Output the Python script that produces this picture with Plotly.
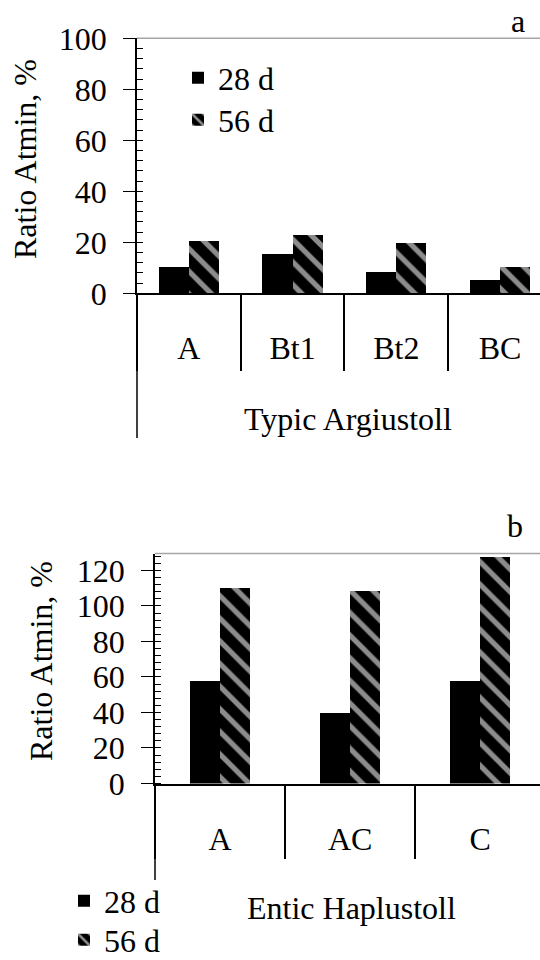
import plotly.graph_objects as go

# ---- data ----
cats_a = ["A", "Bt1", "Bt2", "BC"]
d28_a = [10.3, 15.3, 8.1, 5.1]
d56_a = [20.5, 22.7, 19.5, 10.3]

cats_b = ["A", "AC", "C"]
d28_b = [58.1, 40.0, 58.1]
d56_b = [110.6, 108.5, 127.9]

series_names = ["28 d", "56 d"]
soil_a = "Typic Argiustoll"
soil_b = "Entic Haplustoll"
ytitle = "Ratio Atmin, %"

W, H = 540, 960
FONT = "Liberation Serif, Times New Roman, Times, serif"
FS = 32

def px(y):
    return 1 - y / H

fig = go.Figure()

hatch = dict(shape="\\", fgcolor="#8c8c8c", bgcolor="black", size=16,
             solidity=0.33, fillmode="replace")

wa = 0.29
wb = 0.23
fig.add_trace(go.Bar(x=cats_a, y=d28_a, name=series_names[0], xaxis="x", yaxis="y",
                     marker=dict(color="black", line=dict(width=0)),
                     width=wa, offset=-wa, legend="legend"))
fig.add_trace(go.Bar(x=cats_a, y=d56_a, name=series_names[1], xaxis="x", yaxis="y",
                     marker=dict(color="black", pattern=hatch, line=dict(width=0)),
                     width=wa, offset=0, legend="legend2"))
fig.add_trace(go.Bar(x=cats_b, y=d28_b, name=series_names[0], xaxis="x2", yaxis="y2",
                     marker=dict(color="black", line=dict(width=0)),
                     width=wb, offset=-wb, legend="legend3"))
fig.add_trace(go.Bar(x=cats_b, y=d56_b, name=series_names[1], xaxis="x2", yaxis="y2",
                     marker=dict(color="black", pattern=hatch, line=dict(width=0)),
                     width=wb, offset=0, legend="legend4"))

font = dict(family=FONT, size=FS, color="black")

xcommon = dict(type="category", showgrid=False, zeroline=False, showline=True,
               linecolor="black", linewidth=1.5, ticks="outside", tickson="boundaries",
               tickcolor="black", tickwidth=1.5, tickfont=font, fixedrange=True,
               automargin=False)
ycommon = dict(showgrid=False, zeroline=False, showline=True, linecolor="black",
               linewidth=1.5, ticks="outside", ticklen=12, tickwidth=1.2, tickcolor="black",
               tickfont=font, ticklabelstandoff=10,
               minor=dict(dtick=4, ticks="inside", ticklen=6, tickcolor="black", tickwidth=1),
               fixedrange=True, automargin=False)

def leg(xp, yp):
    return dict(x=xp / W, y=px(yp), xanchor="left", yanchor="middle", font=font,
                bgcolor="rgba(0,0,0,0)", tracegroupgap=0, itemwidth=30)

xa_left, xb_left = 137, 155
fig.update_layout(
    width=W, height=H,
    margin=dict(l=0, r=0, t=0, b=0, autoexpand=False),
    paper_bgcolor="white", plot_bgcolor="white",
    font=font,
    xaxis=dict(xcommon, domain=[xa_left / W, 1], range=[-0.5, 3.386], anchor="y",
               ticklen=76, ticklabelstandoff=26),
    yaxis=dict(ycommon, domain=[px(293.3), px(38.3)], range=[0, 100], dtick=20, anchor="x"),
    xaxis2=dict(xcommon, domain=[xb_left / W, 1], range=[-0.5, 2.46], anchor="y2",
                ticklen=74, ticklabelstandoff=26),
    yaxis2=dict(ycommon, domain=[px(783.5), px(553.5)], range=[0, 129.5], dtick=20, anchor="x2"),
    legend=leg(178, 78),
    legend2=leg(178, 120),
    legend3=leg(64, 901),
    legend4=leg(64, 940),
    bargap=0, showlegend=True,
)

shapes = []
# gray top border lines
shapes.append(dict(type="line", xref="x domain", yref="y domain", x0=0, x1=1, y0=1, y1=1,
                   line=dict(color="#a6a6a6", width=1.5)))
shapes.append(dict(type="line", xref="x2 domain", yref="y2 domain", x0=0, x1=1, y0=1, y1=1,
                   line=dict(color="#a6a6a6", width=1.5)))
# extended left axis lines below category axis
shapes.append(dict(type="line", xref="x domain", yref="paper", x0=0, x1=0,
                   y0=px(293.3), y1=px(438), line=dict(color="black", width=1.5)))
shapes.append(dict(type="line", xref="x2 domain", yref="paper", x0=0, x1=0,
                   y0=px(783.5), y1=px(880), line=dict(color="black", width=1.5)))
fig.update_layout(shapes=shapes)

ann = []
ann.append(dict(text=ytitle, xref="paper", yref="paper", x=25 / W, y=px(159), textangle=-90,
                showarrow=False, font=font, xanchor="center", yanchor="middle"))
ann.append(dict(text=ytitle, xref="paper", yref="paper", x=41 / W, y=px(661), textangle=-90,
                showarrow=False, font=font, xanchor="center", yanchor="middle"))
ann.append(dict(text=soil_a, xref="paper", yref="paper", x=348 / W, y=px(419),
                showarrow=False, font=font, xanchor="center", yanchor="middle"))
ann.append(dict(text=soil_b, xref="paper", yref="paper", x=351 / W, y=px(908),
                showarrow=False, font=font, xanchor="center", yanchor="middle"))
ann.append(dict(text="a", xref="paper", yref="paper", x=518 / W, y=px(21),
                showarrow=False, font=font, xanchor="center", yanchor="middle"))
ann.append(dict(text="b", xref="paper", yref="paper", x=515 / W, y=px(526),
                showarrow=False, font=font, xanchor="center", yanchor="middle"))
fig.update_layout(annotations=ann)

fig.write_html("out.html", config={"displayModeBar": False},
               post_script="document.body.style.margin='0px';"
                           "document.body.style.overflow='hidden';")
